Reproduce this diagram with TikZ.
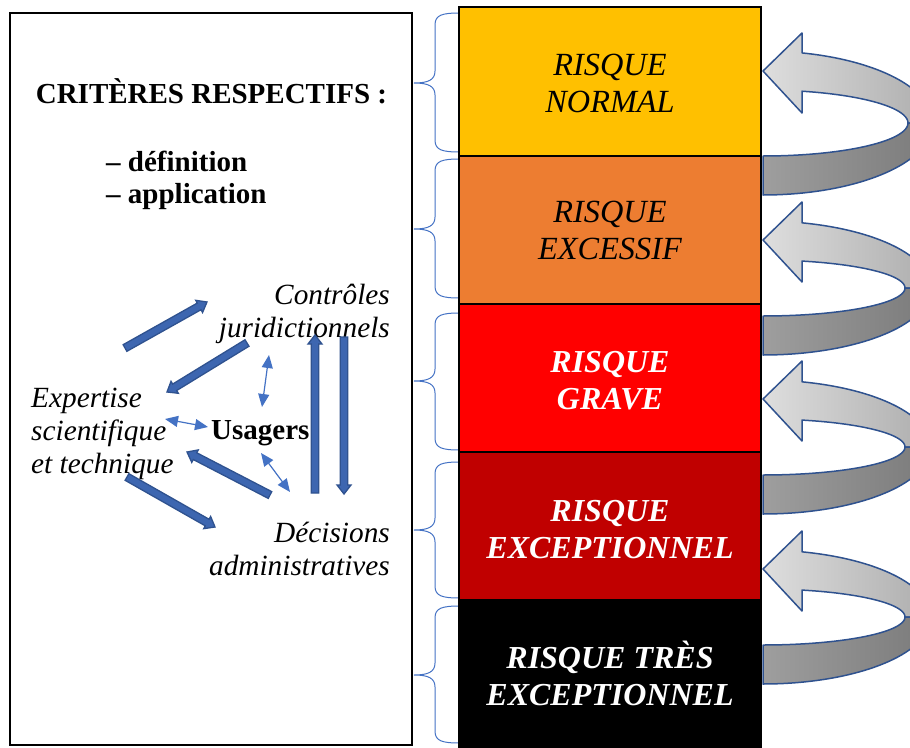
\documentclass[tikz,border=0pt]{standalone}
\usepackage{fontspec}
\setmainfont{Liberation Serif}
\usetikzlibrary{calc,arrows.meta}
\definecolor{yel}{HTML}{FFC000}
\definecolor{ora}{HTML}{ED7D31}
\definecolor{rred}{HTML}{FF0000}
\definecolor{dred}{HTML}{C00000}
\definecolor{abl}{HTML}{4472C4}
\definecolor{abf}{HTML}{3D66B0}
\definecolor{abd}{HTML}{2F528F}
\newcommand\lines[2]{\begin{tabular}[t]{@{}#1@{}}#2\end{tabular}}
\newcommand\blkarrow[2]{%
  \coordinate (hb) at ($(#2)!9pt!(#1)$);
  \draw[blk] ($(#1)!3.8pt!90:(#2)$) -- ($(hb)!3.8pt!90:(#2)$) -- ($(hb)!7pt!90:(#2)$) -- (#2)
    -- ($(hb)!7pt!-90:(#2)$) -- ($(hb)!3.8pt!-90:(#2)$) -- ($(#1)!3.8pt!-90:(#2)$) -- cycle;}
\newcommand\mybrace[3]{%
  \draw[brc] (460,#1) .. controls (442,#1) and (435,#1+2) .. (435,#1+12) -- (435,#2-12)
    .. controls (435,#2-3) and (428,#2) .. (414,#2) .. controls (428,#2) and (435,#2+3) .. (435,#2+12)
    -- (435,#3-12) .. controls (435,#3-2) and (442,#3) .. (460,#3);}
\newcommand\uturn[6]{% T, C, ao, bo, ai, bi
  \pgfmathsetmacro\ta{-acos(39/#3)}%
  \pgfmathsetmacro\tb{-acos(39/#5)}%
  \draw[turn, left color=black!13, right color=black!32]
    (763,#1) -- (802,#1-38) -- plot[domain=\ta:0] ({763+#3*cos(\x)},{#2+#4*sin(\x)})
    -- plot[domain=0:\tb] ({763+#5*cos(\x)},{#2+#6*sin(\x)}) -- (802,#1+42) -- cycle;
  \draw[turn, left color=black!38, right color=black!52]
    (763,#2+#4) -- plot[domain=90:0] ({763+#3*cos(\x)},{#2+#4*sin(\x)})
    -- plot[domain=0:90] ({763+#5*cos(\x)},{#2+#6*sin(\x)}) -- cycle;}
\tikzset{
  blk/.style={draw=abd, fill=abf, line width=1.3pt, line join=miter},
  thinarr/.style={draw=abl, line width=1.2pt, {Triangle[length=13pt,width=11pt]}-{Triangle[length=13pt,width=11pt]}},
  brc/.style={draw=abl, line width=1pt},
  turn/.style={draw=abd, line width=1.5pt, samples=40, line join=round},
  rbox/.style={draw=black, line width=2pt, minimum width=302pt, inner sep=0pt},
  risk/.style={inner sep=0pt, font=\fontsize{32.3}{37}\selectfont\itshape},
  riskw/.style={risk, text=white, font=\fontsize{32}{37}\selectfont\bfseries\itshape},
  lbl/.style={inner sep=0pt, font=\fontsize{29.3}{33}\selectfont\itshape},
  bold/.style={inner sep=0pt, font=\fontsize{29}{32}\selectfont\bfseries},
}
\begin{document}
\begin{tikzpicture}[x=1pt, y=1pt, yscale=-1]
\useasboundingbox (0,0) rectangle (910,747);
% left box
\node[draw=black, line width=2.5pt, minimum width=402pt, minimum height=732pt, inner sep=0pt] (left) at (211,379) {};
\node[bold, anchor=base] (crit) at (211.5,103) {CRITÈRES RESPECTIFS :};
\node[bold, anchor=base west] (items) at (106,171) {\lines{l}{– définition\\– application}};
% diagram labels
\node[lbl, anchor=base east] (ctrl) at (390,304) {\lines{r}{Contrôles\\juridictionnels}};
\node[lbl, anchor=base west] (exp) at (31,407) {\lines{l}{Expertise\\scientifique\\et technique}};
\node[bold, anchor=base west] (usa) at (211,439) {Usagers};
\node[lbl, anchor=base east] (dec) at (390,542) {\lines{r}{Décisions\\administratives}};
% thick arrows
\coordinate (p1a) at (125,348); \coordinate (p1b) at (207,302);
\coordinate (p2a) at (247,343); \coordinate (p2b) at (167,392);
\coordinate (p3a) at (270,495); \coordinate (p3b) at (187,452);
\coordinate (p4a) at (127,477); \coordinate (p4b) at (215,527);
\coordinate (p5a) at (315,493); \coordinate (p5b) at (315,335);
\coordinate (p6a) at (344,337); \coordinate (p6b) at (344,494);
\blkarrow{p1a}{p1b}
\blkarrow{p2a}{p2b}
\blkarrow{p3a}{p3b}
\blkarrow{p4a}{p4b}
\blkarrow{p5a}{p5b}
\blkarrow{p6a}{p6b}
% thin double arrows
\coordinate (q1a) at (269,355); \coordinate (q1b) at (262,407);
\coordinate (q2a) at (165,419); \coordinate (q2b) at (208,427);
\coordinate (q3a) at (261,453); \coordinate (q3b) at (290,492);
\draw[thinarr] (q1a) -- (q1b);
\draw[thinarr] (q2a) -- (q2b);
\draw[thinarr] (q3a) -- (q3b);
% braces
\mybrace{13}{83}{152}
\mybrace{159}{229}{298}
\mybrace{313}{381}{450}
\mybrace{462}{530}{598}
\mybrace{606}{675}{743}
% risk column
\node[rbox, fill=black, minimum height=150pt] (b5) at (610,675) {};
\node[rbox, fill=dred, minimum height=148pt] (b4) at (610,526) {};
\node[rbox, fill=rred, minimum height=148pt] (b3) at (610,378) {};
\node[rbox, fill=ora, minimum height=148pt] (b2) at (610,230) {};
\node[rbox, fill=yel, minimum height=149pt] (b1) at (610,81.5) {};
\node[risk, anchor=base] (t1) at (610,75) {\lines{c}{RISQUE\\NORMAL}};
\node[risk, anchor=base] (t2) at (610,222.7) {\lines{c}{RISQUE\\EXCESSIF}};
\node[riskw, anchor=base] (t3) at (610,372) {\lines{c}{RISQUE\\GRAVE}};
\node[riskw, anchor=base] (t4) at (610,521) {\lines{c}{RISQUE\\EXCEPTIONNEL}};
\node[riskw, anchor=base] (t5) at (610,668) {\lines{c}{RISQUE TRÈS\\EXCEPTIONNEL}};
% curved arrows
\begin{scope}
\clip (0,0) rectangle (910,747);
\uturn{71}{123}{170}{72}{145}{33}
\uturn{240}{288}{168}{67}{142}{28}
\uturn{399}{447}{168}{67}{142}{28}
\uturn{569}{617}{168}{67}{142}{28}
\end{scope}
\end{tikzpicture}
\end{document}
